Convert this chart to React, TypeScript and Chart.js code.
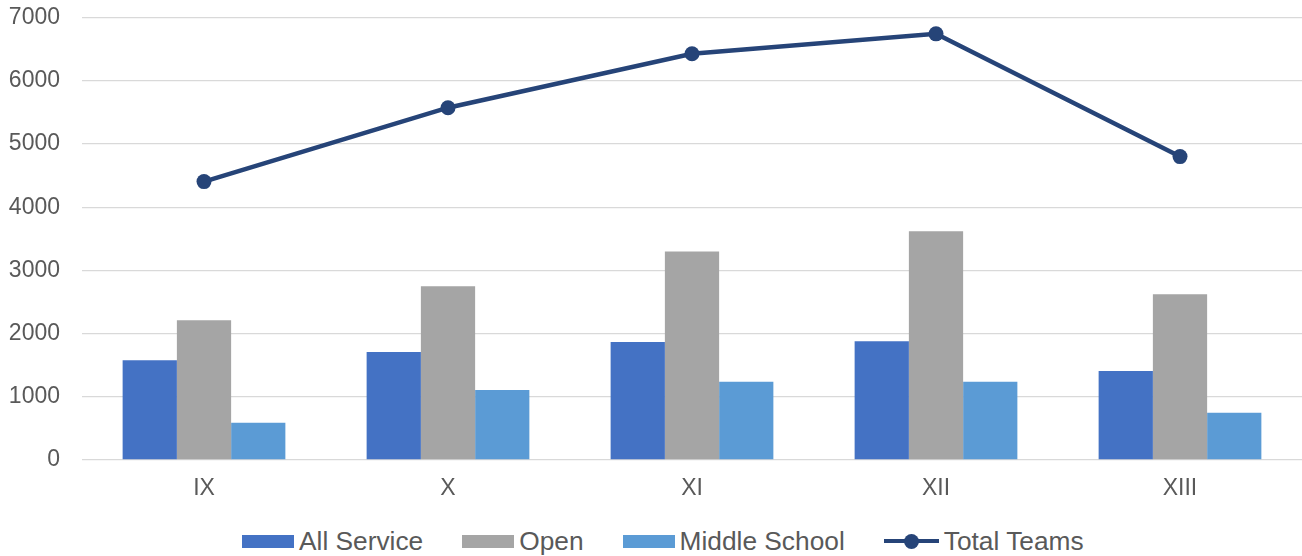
import React, { useEffect, useRef } from "react";
import { Chart, registerables } from "chart.js";

Chart.register(...registerables);

const categories = ["IX", "X", "XI", "XII", "XIII"];
const allService = [1580, 1711, 1868, 1879, 1410];
const openTeams = [2212, 2750, 3300, 3622, 2622];
const middleSchool = [589, 1109, 1237, 1237, 747];
const totalTeams = [4407, 5577, 6430, 6746, 4803];
const yTicks = [0, 1000, 2000, 3000, 4000, 5000, 6000, 7000];

const FONT = '"Liberation Sans", Arial, sans-serif';
const TEXT = "#595959";
const COLORS = {
  allService: "#4472C4",
  open: "#A5A5A5",
  middle: "#5B9BD5",
  total: "#264478",
};

const legendItems = [
  { label: "All Service", color: COLORS.allService, type: "box" },
  { label: "Open", color: COLORS.open, type: "box" },
  { label: "Middle School", color: COLORS.middle, type: "box" },
  { label: "Total Teams", color: COLORS.total, type: "line" },
];

export default function App() {
  const ref = useRef<HTMLCanvasElement | null>(null);

  useEffect(() => {
    if (!ref.current) return;
    const chart = new Chart(ref.current, {
      type: "bar",
      data: {
        labels: categories,
        datasets: [
          {
            type: "line",
            label: "Total Teams",
            data: totalTeams,
            borderColor: COLORS.total,
            backgroundColor: COLORS.total,
            borderWidth: 4.5,
            pointRadius: 7.5,
            pointBorderWidth: 0,
            pointBackgroundColor: COLORS.total,
            tension: 0,
            order: 0,
          } as any,
          {
            label: "All Service",
            data: allService,
            backgroundColor: COLORS.allService,
            categoryPercentage: 0.667,
            barPercentage: 1.0,
            order: 1,
          },
          {
            label: "Open",
            data: openTeams,
            backgroundColor: COLORS.open,
            categoryPercentage: 0.667,
            barPercentage: 1.0,
            order: 1,
          },
          {
            label: "Middle School",
            data: middleSchool,
            backgroundColor: COLORS.middle,
            categoryPercentage: 0.667,
            barPercentage: 1.0,
            order: 1,
          },
        ],
      },
      options: {
        animation: false,
        responsive: false,
        maintainAspectRatio: false,
        layout: { autoPadding: false, padding: { top: 4, right: 0, left: 0, bottom: 0 } },
        plugins: {
          legend: { display: false },
          tooltip: { enabled: false },
        },
        scales: {
          x: {
            grid: { display: false, drawTicks: false },
            border: { display: false },
            ticks: {
              color: TEXT,
              font: { family: FONT, size: 23 },
              padding: 15,
            },
            afterFit: (scale: any) => {
              scale.height = 55;
            },
          },
          y: {
            min: 0,
            max: 7000,
            afterBuildTicks: (scale: any) => {
              scale.ticks = yTicks.map((v) => ({ value: v }));
            },
            grid: { color: "#D9D9D9", lineWidth: 1.3, drawTicks: false },
            border: { display: false },
            ticks: {
              color: TEXT,
              font: { family: FONT, size: 23 },
              padding: 22,
              callback: (v: any) => String(v),
            },
            afterFit: (scale: any) => {
              scale.width = 82;
            },
          },
        },
      },
    });
    return () => chart.destroy();
  }, []);

  return (
    <div
      style={{
        position: "fixed",
        left: 0,
        top: 0,
        width: 1302,
        height: 556,
        background: "#fff",
        overflow: "hidden",
      }}
    >
      <canvas
        ref={ref}
        width={1302}
        height={533}
        style={{ display: "block", position: "absolute", left: 0, top: -18 }}
      />
      <div
        style={{
          position: "absolute",
          left: 242,
          top: 526,
          display: "flex",
          alignItems: "center",
          fontFamily: FONT,
          fontSize: 26.3,
          color: TEXT,
          lineHeight: "30px",
          whiteSpace: "nowrap",
        }}
      >
        {legendItems.map((it, i) => (
          <div
            key={it.label}
            style={{
              display: "flex",
              alignItems: "center",
              marginRight: i < legendItems.length - 1 ? 39 : 0,
            }}
          >
            {it.type === "box" ? (
              <div style={{ width: 52, height: 13, background: it.color }} />
            ) : (
              <div style={{ position: "relative", width: 55, height: 15 }}>
                <div
                  style={{
                    position: "absolute",
                    left: 0,
                    top: 5.5,
                    width: 55,
                    height: 4,
                    background: it.color,
                  }}
                />
                <div
                  style={{
                    position: "absolute",
                    left: 20,
                    top: 0,
                    width: 15,
                    height: 15,
                    borderRadius: 7.5,
                    background: it.color,
                  }}
                />
              </div>
            )}
            <span style={{ marginLeft: 5 }}>{it.label}</span>
          </div>
        ))}
      </div>
    </div>
  );
}
